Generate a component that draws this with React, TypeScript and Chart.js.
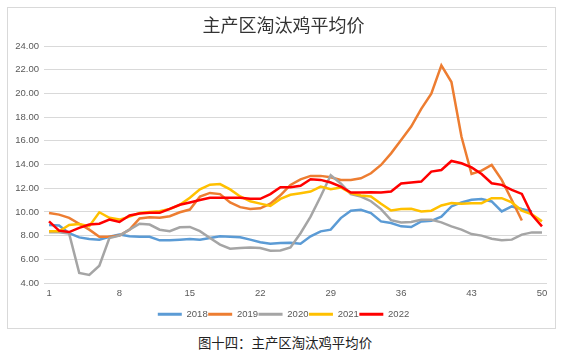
import React, { useEffect, useRef } from 'react';
import { Chart, registerables } from 'chart.js';

Chart.register(...registerables);

const titleText = '主产区淘汰鸡平均价';
const captionText = '图十四：主产区淘汰鸡平均价';

const weeks = [
  '1', '2', '3', '4', '5', '6', '7', '8', '9', '10',
  '11', '12', '13', '14', '15', '16', '17', '18', '19', '20',
  '21', '22', '23', '24', '25', '26', '27', '28', '29', '30',
  '31', '32', '33', '34', '35', '36', '37', '38', '39', '40',
  '41', '42', '43', '44', '45', '46', '47', '48', '49', '50',
];
const tickWeeks = ['1', '8', '15', '22', '29', '36', '43', '50'];

const yMin = 4;
const yMax = 24;
const yStep = 2;

const seriesNames = ['2018', '2019', '2020', '2021', '2022'];
const seriesColors = ['#5B9BD5', '#ED7D31', '#A5A5A5', '#FFC000', '#FF0000'];

const values2018 = [
  8.9, 8.85, 8.2, 7.85, 7.72, 7.66, 7.9, 8.1, 7.95, 7.9,
  7.9, 7.6, 7.6, 7.66, 7.72, 7.66, 7.8, 7.94, 7.9, 7.86,
  7.66, 7.44, 7.32, 7.38, 7.4, 7.32, 7.94, 8.36, 8.5, 9.48,
  10.1, 10.18, 9.9, 9.2, 9.06, 8.78, 8.72, 9.2, 9.25, 9.6,
  10.46, 10.8, 11.02, 11.08, 10.88, 10.04, 10.46, 10.24, 10.04, null,
];
const values2019 = [
  9.9, 9.77, 9.5, 9.0, 8.5, 7.9, 7.9, 8.0, 8.5, 9.44,
  9.55, 9.5, 9.63, 9.97, 10.2, 11.3, 11.6, 11.5, 10.8, 10.4,
  10.25, 10.3, 10.7, 11.4, 12.28, 12.75, 13.04, 13.04, 12.92, 12.7,
  12.7, 12.84, 13.26, 13.96, 14.94, 16.06, 17.2, 18.7, 19.98, 22.36,
  20.96, 16.34, 13.2, 13.48, 13.96, 12.7, 11.0, 9.28, null, null,
];
const values2020 = [
  8.28, 8.28, 8.17, 4.85, 4.68, 5.46, 7.8, 8.0, 8.5, 9.0,
  8.93, 8.5, 8.37, 8.7, 8.73, 8.37, 7.8, 7.24, 6.9, 6.96,
  7.0, 6.96, 6.73, 6.75, 7.0, 8.2, 9.6, 11.3, 13.1, 12.4,
  11.5, 11.3, 10.9, 10.24, 9.3, 9.1, 9.14, 9.34, 9.34, 9.12,
  8.78, 8.5, 8.13, 8.0, 7.74, 7.6, 7.66, 8.08, 8.27, 8.27,
];
const values2021 = [
  8.37, 8.37, 8.9, 8.97, 8.8, 9.97, 9.5, 9.35, 9.6, 9.9,
  10.0, 10.05, 10.25, 10.6, 11.2, 11.9, 12.3, 12.35, 11.9, 11.3,
  10.9, 10.7, 10.5, 11.1, 11.44, 11.58, 11.72, 12.14, 11.92, 12.06,
  11.58, 11.38, 11.3, 10.68, 10.12, 10.24, 10.26, 10.04, 10.1, 10.54,
  10.74, 10.68, 10.74, 10.74, 11.16, 11.16, 10.8, 10.1, 9.8, 9.2,
];
const values2022 = [
  9.2, 8.42, 8.3, 8.65, 8.93, 9.0, 9.35, 9.15, 9.7, 9.86,
  9.92, 9.92, 10.25, 10.6, 10.8, 11.0, 11.2, 11.2, 11.2, 11.2,
  11.1, 11.1, 11.5, 12.08, 12.08, 12.2, 12.75, 12.7, 12.48, 12.14,
  11.64, 11.64, 11.66, 11.64, 11.72, 12.4, 12.48, 12.56, 13.4, 13.54,
  14.3, 14.1, 13.76, 13.2, 12.42, 12.28, 11.86, 11.52, 9.76, 8.78,
];

const seriesValues = [values2018, values2019, values2020, values2021, values2022];

const tickFont = { family: '"Liberation Sans", Arial, sans-serif', size: 9.5 };
const tickColor = '#595959';

export default function App() {
  const canvasRef = useRef<HTMLCanvasElement | null>(null);

  useEffect(() => {
    const canvas = canvasRef.current;
    if (!canvas) return;
    const datasets = seriesNames.map((name, i) => ({
      label: name,
      data: seriesValues[i],
      borderColor: seriesColors[i],
      backgroundColor: seriesColors[i],
      borderWidth: 2.5,
      pointRadius: 0,
      pointHoverRadius: 0,
      tension: 0,
      fill: false,
      spanGaps: false,
      order: seriesNames.length - 1 - i,
    }));

    const chart = new Chart(canvas, {
      type: 'line',
      data: { labels: weeks, datasets },
      options: {
        animation: false,
        responsive: false,
        maintainAspectRatio: false,
        devicePixelRatio: 1,
        layout: { padding: { left: 10, right: 10, top: 0, bottom: 3 } },
        plugins: {
          title: {
            display: true,
            text: titleText,
            color: '#333333',
            font: { family: '"Noto Sans CJK SC", sans-serif', size: 18, weight: 'normal' },
            padding: { top: 14.2, bottom: 10.2 },
          },
          legend: {
            display: true,
            position: 'bottom',
            align: 'center',
            labels: {
              boxWidth: 24,
              boxHeight: 3,
              padding: 0.5,
              color: tickColor,
              font: tickFont,
              generateLabels: () =>
                seriesNames.map((name, i) => ({
                  text: name,
                  fillStyle: seriesColors[i],
                  strokeStyle: seriesColors[i],
                  lineWidth: 0,
                  fontColor: tickColor,
                  hidden: false,
                  datasetIndex: i,
                })),
            },
          },
          tooltip: { enabled: false },
        },
        scales: {
          x: {
            type: 'category',
            offset: true,
            grid: { display: false, drawTicks: false },
            border: { display: false },
            ticks: {
              autoSkip: false,
              maxRotation: 0,
              minRotation: 0,
              padding: 5,
              color: tickColor,
              font: tickFont,
              callback: (_v: any, index: number) =>
                tickWeeks.includes(weeks[index]) ? weeks[index] : '',
            },
            afterFit: (scale: any) => {
              scale.height = 26;
            },
          },
          y: {
            min: yMin,
            max: yMax,
            grid: { color: '#d9d9d9', lineWidth: 1, drawTicks: false },
            border: { display: false },
            ticks: {
              stepSize: yStep,
              padding: 5,
              color: tickColor,
              font: tickFont,
              callback: (v: any) => Number(v).toFixed(2),
            },
            afterFit: (scale: any) => {
              scale.width = 34;
            },
          },
          yRight: {
            position: 'right',
            display: true,
            grid: { display: false, drawTicks: false },
            border: { display: false },
            ticks: { display: false },
            afterFit: (scale: any) => {
              scale.width = 10;
            },
          },
        },
      },
    });
    return () => chart.destroy();
  }, []);

  return (
    <div style={{ position: 'absolute', left: 0, top: 0, width: 567, height: 350, background: '#ffffff' }}>
      <div
        style={{
          position: 'absolute',
          left: 7,
          top: 7,
          width: 549,
          height: 322,
          border: '1px solid #d9d9d9',
          boxSizing: 'border-box',
        }}
      />
      <canvas
        ref={canvasRef}
        width={567}
        height={332}
        style={{ position: 'absolute', left: 0, top: 0, width: 567, height: 332 }}
      />
      <div
        style={{
          position: 'absolute',
          left: 0,
          top: 334,
          width: 570,
          height: 17,
          lineHeight: '17px',
          textAlign: 'center',
          fontFamily: '"Noto Sans CJK SC", sans-serif',
          fontSize: 13.4,
          color: '#222222',
          whiteSpace: 'nowrap',
        }}
      >
        {captionText}
      </div>
    </div>
  );
}
